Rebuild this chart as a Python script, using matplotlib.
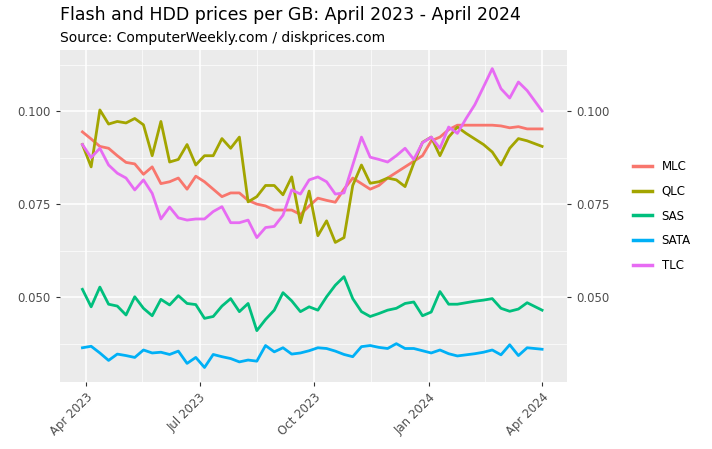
import numpy as np
import pandas as pd
import matplotlib
matplotlib.use('Agg')
import matplotlib.pyplot as plt
import matplotlib.dates as mdates

mlc = [0.0944, 0.0925, 0.0905, 0.0900, 0.0880, 0.0862, 0.0858, 0.0830, 0.0850, 0.0805, 0.0810,
       0.0820, 0.0790, 0.0825, 0.0810, 0.0790, 0.0770, 0.0780, 0.0780, 0.0760, 0.0750, 0.0745,
       0.0734, 0.0734, 0.0734, 0.0722, 0.0745, 0.0766, 0.0760, 0.0755, 0.0790, 0.0820, 0.0805,
       0.0790, 0.0800, 0.0820, 0.0835, 0.0850, 0.0865, 0.0880, 0.0920, 0.0930, 0.0950, 0.0962,
       0.0962, 0.0962, 0.0962, 0.0962, 0.0960, 0.0955, 0.0958, 0.0952, 0.0952]
qlc = [0.0910, 0.0850, 0.1003, 0.0965, 0.0972, 0.0968, 0.0980, 0.0963, 0.0880, 0.0972, 0.0863,
       0.0870, 0.0910, 0.0855, 0.0880, 0.0880, 0.0926, 0.0900, 0.0930, 0.0756, 0.0770, 0.0800,
       0.0800, 0.0775, 0.0823, 0.0700, 0.0785, 0.0665, 0.0705, 0.0647, 0.0660, 0.0800, 0.0855,
       0.0806, 0.0810, 0.0820, 0.0815, 0.0797, 0.0860, 0.0916, 0.0930, 0.0880, 0.0930, 0.0957,
       0.0940, 0.0925, 0.0910, 0.0890, 0.0855, 0.0900, 0.0926, 0.0920, 0.0905]
sas = [0.0521, 0.0474, 0.0527, 0.0481, 0.0476, 0.0452, 0.0501, 0.0470, 0.0450, 0.0494, 0.0479,
       0.0504, 0.0483, 0.0480, 0.0443, 0.0448, 0.0476, 0.0496, 0.0461, 0.0483, 0.0410, 0.0440,
       0.0465, 0.0512, 0.0490, 0.0461, 0.0474, 0.0465, 0.0501, 0.0532, 0.0555, 0.0496, 0.0461,
       0.0448, 0.0456, 0.0465, 0.0470, 0.0483, 0.0487, 0.0450, 0.0460, 0.0515, 0.0481, 0.0481,
       0.0485, 0.0489, 0.0492, 0.0496, 0.0470, 0.0462, 0.0468, 0.0485, 0.0465]
sata = [0.0364, 0.0368, 0.0350, 0.0330, 0.0347, 0.0343, 0.0338, 0.0358, 0.0350, 0.0352, 0.0346,
        0.0355, 0.0322, 0.0338, 0.0311, 0.0346, 0.0340, 0.0335, 0.0326, 0.0331, 0.0328, 0.0370,
        0.0353, 0.0364, 0.0347, 0.0350, 0.0356, 0.0364, 0.0362, 0.0355, 0.0346, 0.0340, 0.0367,
        0.0370, 0.0365, 0.0362, 0.0375, 0.0362, 0.0362, 0.0356, 0.0350, 0.0358, 0.0348, 0.0342,
        0.0345, 0.0348, 0.0352, 0.0358, 0.0345, 0.0372, 0.0343, 0.0364, 0.0360]
tlc = [0.0910, 0.0875, 0.0900, 0.0855, 0.0833, 0.0820, 0.0788, 0.0815, 0.0779, 0.0710, 0.0742,
       0.0713, 0.0707, 0.0710, 0.0710, 0.0730, 0.0743, 0.0700, 0.0700, 0.0707, 0.0660, 0.0687,
       0.0690, 0.0720, 0.0788, 0.0777, 0.0815, 0.0823, 0.0810, 0.0777, 0.0780, 0.0855, 0.0930,
       0.0876, 0.0870, 0.0863, 0.0880, 0.0900, 0.0870, 0.0915, 0.0930, 0.0900, 0.0957, 0.0940,
       0.0980, 0.1017, 0.1065, 0.1114, 0.1060, 0.1035, 0.1078, 0.1055, 0.1000]

series = {'MLC': mlc, 'QLC': qlc, 'SAS': sas, 'SATA': sata, 'TLC': tlc}
colors = {'MLC': '#F8766D', 'QLC': '#A3A500', 'SAS': '#00BF7D', 'SATA': '#00B0F6', 'TLC': '#E76BF3'}

dates = pd.date_range('2023-03-29', periods=len(mlc), freq='7D')
dates = dates[:-1].append(pd.DatetimeIndex(['2024-04-01']))

fig = plt.figure(figsize=(7.12, 4.49), dpi=100)
ax = fig.add_axes([60/712, 1-382/449, 507/712, 332/449])
ax.set_facecolor('#EBEBEB')

for name, vals in series.items():
    ax.plot(dates, vals, color=colors[name], lw=2, label=name)

ax.set_xlim(pd.Timestamp('2023-03-11'), pd.Timestamp('2024-04-21'))
ax.set_ylim(0.0272, 0.1164)

yt = [0.050, 0.075, 0.100]
ax.set_yticks(yt)
ax.set_yticklabels(['0.050', '0.075', '0.100'])
ax.set_yticks([0.0375, 0.0625, 0.0875, 0.1125], minor=True)
xt = pd.to_datetime(['2023-04-01', '2023-07-01', '2023-10-01', '2024-01-01', '2024-04-01'])
ax.set_xticks(xt)
ax.set_xticklabels(['Apr 2023', 'Jul 2023', 'Oct 2023', 'Jan 2024', 'Apr 2024'],
                   rotation=45, ha='right', rotation_mode='anchor')
ax.set_xticks(pd.to_datetime(['2023-05-16', '2023-08-16', '2023-11-16', '2024-02-15']), minor=True)
ax.grid(True, which='major', color='white', lw=1.1)
ax.grid(True, which='minor', color='white', lw=0.5)
ax.set_axisbelow(True)
for s in ax.spines.values():
    s.set_visible(False)
ax.tick_params(which='both', length=0)
ax.tick_params(which='major', length=3, color='#333333', labelsize=8.5, labelcolor='#4D4D4D')
ax.tick_params(axis='x', labelcolor='#4D4D4D')

ax2 = ax.twinx()
ax2.set_ylim(ax.get_ylim())
ax2.set_yticks(yt)
ax2.set_yticklabels(['0.050', '0.075', '0.100'])
for s in ax2.spines.values():
    s.set_visible(False)
ax2.tick_params(length=3, color='#333333', labelsize=8.5, labelcolor='#4D4D4D')

fig.text(60/712, 1-15/449, 'Flash and HDD prices per GB: April 2023 - April 2024',
         fontsize=12.5, va='center', ha='left')
fig.text(60/712, 1-38/449, 'Source: ComputerWeekly.com / diskprices.com',
         fontsize=10, va='center', ha='left')

leg = ax.legend(loc='center left', bbox_to_anchor=(1.11, 0.5), frameon=False,
                fontsize=8.5, handlelength=1.6, labelspacing=1.0, handletextpad=0.8)
for h in leg.legend_handles:
    h.set_linewidth(2.5)

fig.savefig('out.png', dpi=100)
